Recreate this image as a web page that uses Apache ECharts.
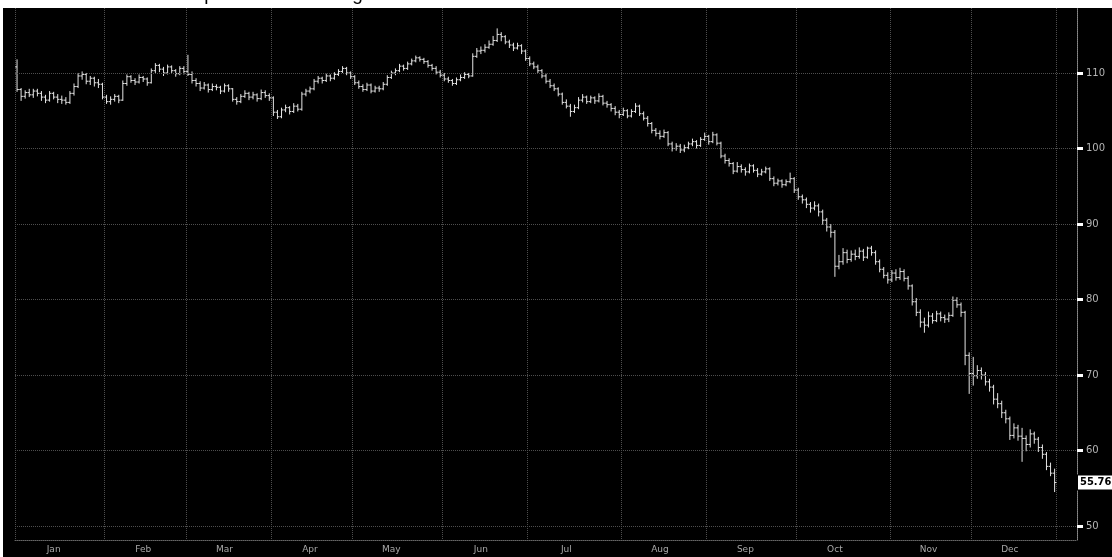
<!DOCTYPE html>
<html><head><meta charset="utf-8">
<script src="https://cdn.jsdelivr.net/npm/echarts@6/dist/echarts.min.js"></script>
<style>html,body{margin:0;padding:0;background:#fff;overflow:hidden}#c{width:1112px;height:557px}</style>
</head><body><div id="c"></div>
<script>
const titleText = 'Exhibit: Brent crude oil price over the range of 2014';
const monthNames = ['Jan','Feb','Mar','Apr','May','Jun','Jul','Aug','Sep','Oct','Nov','Dec'];
const tradingDays = [22,20,21,20,22,21,23,21,22,23,20,21];
const yTicks = [50,60,70,80,90,100,110];
const lastLabel = '55.76';

const opens = [
110.8,107.8,106.9,107.4,107.1,107.6,107.3,106.8,106.4,107.3,106.8,106.5,106.4,106.1,107.3,108.2,109.6,109.8,108.9,109.3,108.7,108.5,
106.8,106.2,106.5,106.9,106.4,108.6,109.5,109.0,108.8,109.4,109.2,108.7,110.3,111.0,110.5,110.0,110.8,110.3,109.9,110.6,
110.2,109.8,109.0,108.6,108.0,108.4,107.8,108.2,108.1,107.6,108.3,107.9,106.5,106.2,106.9,107.3,106.8,107.1,106.6,107.4,107.0,
106.7,104.8,104.2,105.1,105.4,104.9,105.6,105.2,107.2,107.6,107.9,108.9,109.3,109.0,109.6,109.3,109.8,110.2,110.6,110.0,
109.5,108.7,108.2,107.8,108.4,107.6,108.0,107.9,108.5,109.4,110.0,110.3,110.9,110.6,111.2,111.6,112.0,111.8,111.5,111.0,110.6,110.1,
109.7,109.2,109.0,108.6,109.1,109.4,109.8,109.6,112.2,112.9,113.0,113.4,113.8,114.3,115.1,114.8,114.1,113.7,113.3,113.6,112.9,
111.9,111.2,110.8,110.3,109.6,108.9,108.3,107.9,107.2,106.1,105.6,104.9,105.4,106.4,106.8,106.2,106.7,106.3,106.9,106.0,105.8,105.3,104.8,
104.5,105.0,104.3,104.9,105.6,104.6,104.0,103.3,102.4,102.0,101.6,102.1,100.6,100.0,100.3,99.8,100.1,100.6,100.9,100.4,101.2,
101.6,100.9,101.8,100.7,99.0,98.4,98.0,97.0,97.6,97.2,96.9,97.7,97.1,96.6,96.9,97.3,96.0,95.4,95.7,95.2,95.6,96.0,
94.5,93.6,93.2,92.6,92.1,92.4,91.6,90.5,89.6,88.9,84.4,85.0,86.2,85.3,86.0,85.7,86.4,85.6,86.8,86.2,85.0,84.0,83.2,
82.6,83.5,82.9,83.7,82.8,81.8,79.7,78.3,77.0,76.6,77.8,77.2,78.1,77.6,77.4,77.9,79.9,79.3,78.3,72.6,
70.2,69.9,70.6,70.0,69.1,68.4,66.8,66.2,65.0,64.2,62.0,63.0,61.9,61.6,60.8,62.2,61.5,60.4,59.5,57.9,57.0
];
const highs = [
111.8,108.0,107.7,107.9,107.9,107.9,107.6,107.1,107.6,107.5,107.2,107.0,106.8,107.6,108.6,110.0,110.2,110.0,109.6,109.5,109.2,108.7,
107.1,106.9,107.2,107.1,109.0,109.8,109.7,109.3,109.8,109.6,109.4,110.6,111.3,111.2,110.8,111.1,111.0,110.5,110.9,110.9,
112.4,110.2,109.3,108.9,108.8,108.6,108.6,108.5,108.3,108.6,108.5,108.0,106.8,107.2,107.7,107.5,107.5,107.3,107.8,107.7,107.3,
106.9,105.1,105.4,105.8,105.6,106.0,105.9,107.5,107.9,108.2,109.2,109.6,109.5,109.9,109.8,110.1,110.5,110.9,110.8,110.2,
109.7,109.0,108.5,108.7,108.6,108.3,108.3,108.8,109.7,110.3,110.6,111.2,111.1,111.5,111.9,112.3,112.2,112.0,111.7,111.2,110.9,110.4,
110.0,109.5,109.2,109.4,109.8,110.1,110.0,112.6,113.3,113.5,113.8,114.3,114.9,115.9,115.4,115.0,114.4,114.0,114.0,113.8,113.1,
112.2,111.5,111.1,110.5,109.9,109.2,108.6,108.1,107.4,106.5,105.9,105.8,106.8,107.2,107.0,107.0,106.9,107.3,107.1,106.3,106.0,105.6,105.1,
105.4,105.2,105.2,106.0,105.8,104.9,104.3,103.5,102.7,102.4,102.5,102.3,100.9,100.7,100.6,100.5,100.9,101.3,101.1,101.5,102.1,
101.8,102.2,102.0,100.9,99.3,98.7,98.2,98.2,97.9,97.5,98.0,97.9,97.4,97.3,97.6,97.5,96.3,96.0,95.9,95.9,96.8,96.2,
94.8,93.9,93.5,92.9,93.0,92.7,91.9,90.8,90.0,89.2,85.9,86.8,86.6,86.5,86.6,86.9,86.7,87.0,87.1,86.5,85.3,84.3,83.6,
83.9,84.0,84.2,84.0,83.1,82.0,80.2,78.7,77.6,78.4,78.2,78.5,78.4,78.0,78.3,80.4,80.3,79.6,78.5,73.0,
72.4,71.3,71.0,70.4,69.5,68.7,67.6,66.6,65.4,64.5,63.6,63.4,63.0,62.0,62.8,62.5,61.8,60.8,59.8,58.4,57.6
];
const lows = [
107.5,106.3,106.6,106.8,106.7,106.9,106.3,106.0,106.2,106.5,106.0,105.9,105.8,105.9,107.0,108.0,109.1,108.5,108.4,108.2,108.0,106.5,
105.9,105.8,106.2,106.0,106.3,108.3,108.7,108.4,108.6,108.8,108.3,108.6,110.0,110.1,109.6,109.8,110.0,109.5,109.7,109.8,
109.6,108.6,108.2,107.6,107.8,107.4,107.6,107.7,107.2,107.4,107.5,106.2,105.8,106.0,106.7,106.4,106.5,106.2,106.4,106.7,106.3,
104.3,103.9,104.0,104.8,104.5,104.7,104.9,105.0,106.9,107.3,107.7,108.6,108.6,108.8,108.9,109.1,109.6,110.0,109.7,109.2,
108.4,107.9,107.5,107.6,107.3,107.4,107.5,107.7,108.3,109.2,109.7,110.1,110.3,110.4,111.0,111.4,111.5,111.2,110.7,110.3,109.8,109.4,
108.9,108.7,108.3,108.4,108.9,109.2,109.3,109.5,112.0,112.5,112.7,113.2,113.6,114.1,114.2,113.8,113.3,112.9,113.1,112.5,111.6,
110.9,110.5,110.0,109.3,108.6,108.0,107.6,106.9,105.8,105.3,104.2,104.7,105.2,106.1,105.9,106.0,105.9,106.1,105.7,105.4,104.9,104.4,104.0,
104.3,104.0,104.1,104.7,104.3,103.7,102.9,102.0,101.6,101.2,101.4,100.3,99.6,99.7,99.4,99.5,99.9,100.3,100.0,100.2,101.0,
100.5,100.7,100.4,98.7,98.0,97.6,96.6,96.8,96.8,96.4,96.7,96.8,96.2,96.4,96.7,95.7,95.0,95.1,94.8,95.0,95.4,94.1,
93.2,92.7,92.1,91.5,91.8,91.0,89.9,89.0,88.2,83.0,84.0,84.6,84.8,85.0,85.2,85.4,85.1,85.4,85.8,84.6,83.6,82.8,82.1,
82.3,82.5,82.6,82.4,81.3,79.2,77.8,76.3,75.6,76.3,76.8,77.0,77.1,76.9,77.0,77.7,78.9,77.7,71.3,67.5,
68.6,69.5,69.4,68.6,67.8,66.1,65.6,64.3,63.6,61.4,61.6,61.3,58.5,59.9,60.4,60.9,59.8,58.9,57.4,56.6,54.5
];
const closes = [
107.8,106.9,107.4,107.1,107.6,107.3,106.8,106.4,107.3,106.8,106.5,106.4,106.1,107.3,108.2,109.6,109.8,108.9,109.3,108.7,108.5,106.8,
106.2,106.5,106.9,106.4,108.6,109.5,109.0,108.8,109.4,109.2,108.7,110.3,111.0,110.5,110.0,110.8,110.3,109.9,110.6,110.2,
109.8,109.0,108.6,108.0,108.4,107.8,108.2,108.1,107.6,108.3,107.9,106.5,106.2,106.9,107.3,106.8,107.1,106.6,107.4,107.0,106.7,
104.8,104.2,105.1,105.4,104.9,105.6,105.2,107.2,107.6,107.9,108.9,109.3,109.0,109.6,109.3,109.8,110.2,110.6,110.0,109.5,
108.7,108.2,107.8,108.4,107.6,108.0,107.9,108.5,109.4,110.0,110.3,110.9,110.6,111.2,111.6,112.0,111.8,111.5,111.0,110.6,110.1,109.7,
109.2,109.0,108.6,109.1,109.4,109.8,109.6,112.2,112.9,113.0,113.4,113.8,114.3,115.1,114.8,114.1,113.7,113.3,113.6,112.9,111.9,
111.2,110.8,110.3,109.6,108.9,108.3,107.9,107.2,106.1,105.6,104.9,105.4,106.4,106.8,106.2,106.7,106.3,106.9,106.0,105.8,105.3,104.8,104.5,
105.0,104.3,104.9,105.6,104.6,104.0,103.3,102.4,102.0,101.6,102.1,100.6,100.0,100.3,99.8,100.1,100.6,100.9,100.4,101.2,101.6,
100.9,101.8,100.7,99.0,98.4,98.0,97.0,97.6,97.2,96.9,97.7,97.1,96.6,96.9,97.3,96.0,95.4,95.7,95.2,95.6,96.0,94.5,
93.6,93.2,92.6,92.1,92.4,91.6,90.5,89.6,88.9,84.4,85.0,86.2,85.3,86.0,85.7,86.4,85.6,86.8,86.2,85.0,84.0,83.2,82.6,
83.5,82.9,83.7,82.8,81.8,79.7,78.3,77.0,76.6,77.8,77.2,78.1,77.6,77.4,77.9,79.9,79.3,78.3,72.6,70.2,
69.9,70.6,70.0,69.1,68.4,66.8,66.2,65.0,64.2,62.0,63.0,61.9,61.6,60.8,62.2,61.5,60.4,59.5,57.9,57.0,55.76
];

// categories: trading days, month starts (grid lines) and mid-month labels
const categories = [];
const monthStart = new Set();
const labelAt = new Map();
let pos = 0;
tradingDays.forEach((n, m) => {
  monthStart.add(pos);
  labelAt.set(pos + 9, monthNames[m]);
  for (let d = 1; d <= n; d++) categories.push(monthNames[m] + ' ' + d);
  pos += n;
});
monthStart.add(pos);
for (let k = 1; k <= 5; k++) categories.push('pad' + k);

const bars = closes.map((c, i) => [i, opens[i], highs[i], lows[i], c]);
const lastValue = closes[closes.length - 1];
const BAR = '#e4e4e4';
const GRIDC = '#4e4e4e';
const Y_MIN = 48.15, Y_MAX = 118.6;

const chart = echarts.init(document.getElementById('c'), null, {renderer: 'canvas'});
chart.setOption({
  animation: false,
  backgroundColor: '#000',
  title: {
    text: titleText, left: 4, top: -20, z: 60,
    textStyle: {fontSize: 19, color: '#000', fontWeight: 'normal', fontFamily: 'Liberation Sans, Arial, sans-serif'}
  },
  graphic: [
    {type: 'rect', left: 0, top: 0, z: 50, shape: {width: 1112, height: 8}, style: {fill: '#fff'}},
    {type: 'rect', left: 0, top: 0, z: 50, shape: {width: 3, height: 557}, style: {fill: '#fff'}}
  ],
  grid: {left: 15, right: 35, top: 8, bottom: 17, containLabel: false, outerBoundsMode: 'none'},
  xAxis: {
    type: 'category', data: categories, boundaryGap: true,
    axisLine: {show: true, lineStyle: {color: '#666', type: 'dotted'}},
    axisTick: {show: false},
    axisLabel: {
      interval: (i) => labelAt.has(i),
      formatter: (v, i) => labelAt.get(i) || '',
      color: '#a8a8a8', fontSize: 9, margin: 5, fontFamily: 'DejaVu Sans, sans-serif'
    },
    splitLine: {show: true, interval: (i) => monthStart.has(i), lineStyle: {color: GRIDC, type: 'dotted', width: 1}}
  },
  yAxis: [{
    type: 'value', position: 'right', min: Y_MIN, max: Y_MAX,
    axisLine: {show: true, lineStyle: {color: '#8a8a8a', type: 'dotted'}},
    axisTick: {show: true, customValues: yTicks, length: 6, lineStyle: {color: '#fff', width: 3}},
    axisLabel: {customValues: yTicks, color: '#b4b4b4', fontSize: 10, margin: 9, fontFamily: 'DejaVu Sans, sans-serif'},
    splitLine: {show: false}
  }, {
    type: 'value', position: 'right', offset: 0, min: Y_MIN, max: Y_MAX,
    axisLine: {show: false},
    axisTick: {show: false},
    splitLine: {show: false},
    axisLabel: {
      customValues: [lastValue], formatter: () => lastLabel, margin: 1,
      backgroundColor: '#fff', color: '#000', borderColor: '#000', borderWidth: 1,
      padding: [2, 1, 1, 2], fontSize: 11, fontWeight: 'bold',
      fontFamily: 'DejaVu Sans Condensed, Liberation Sans Narrow, sans-serif'
    }
  }],
  series: [{
    type: 'custom',
    clip: false,
    yAxisIndex: 0,
    encode: {x: 0, y: [1, 2, 3, 4]},
    data: bars,
    renderItem: (params, api) => {
      const i = api.value(0);
      const x = api.coord([i, 0])[0];
      const yO = api.coord([i, api.value(1)])[1];
      const yH = api.coord([i, api.value(2)])[1];
      const yL = api.coord([i, api.value(3)])[1];
      const yC = api.coord([i, api.value(4)])[1];
      const half = api.size([1, 0])[0] * 0.45;
      const st = {stroke: BAR, lineWidth: 1};
      return {type: 'group', children: [
        {type: 'line', shape: {x1: x, y1: yH, x2: x, y2: yL}, style: st},
        {type: 'line', shape: {x1: x - half, y1: yO, x2: x, y2: yO}, style: st},
        {type: 'line', shape: {x1: x, y1: yC, x2: x + half, y2: yC}, style: st}
      ]};
    },
    markLine: {
      silent: true, symbol: 'none', animation: false,
      lineStyle: {color: GRIDC, type: 'dotted', width: 1},
      label: {show: false},
      data: yTicks.map(v => ({yAxis: v}))
    }
  }]
});
</script>
</body></html>
